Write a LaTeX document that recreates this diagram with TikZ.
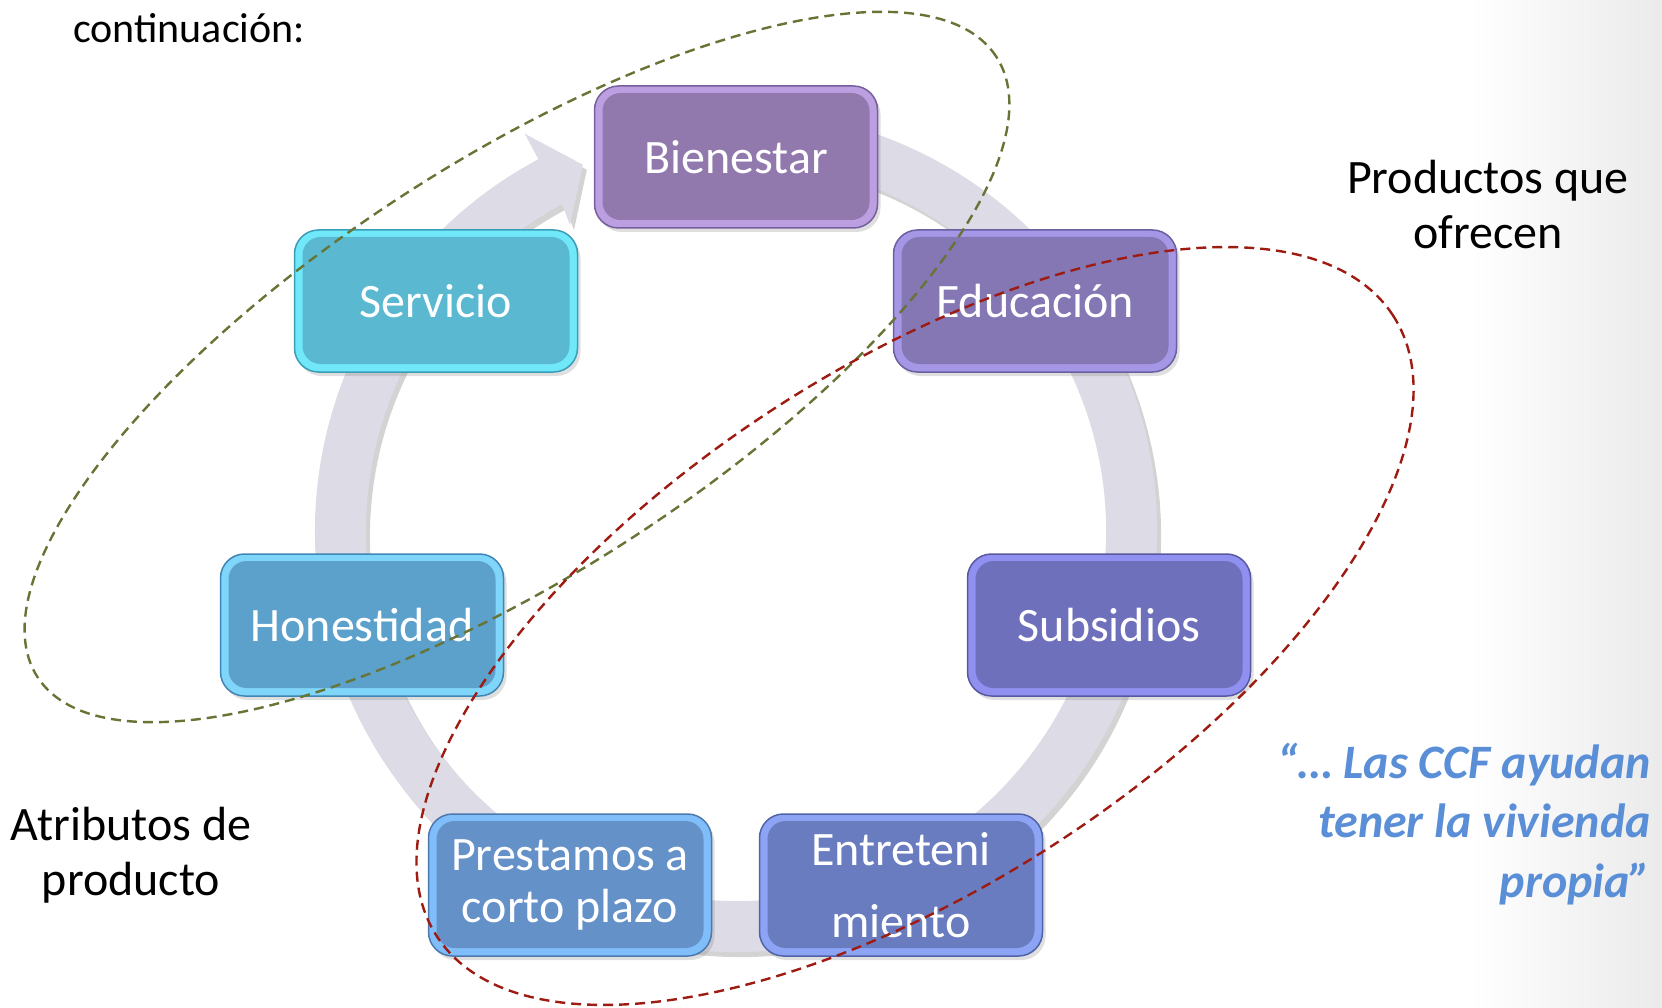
\documentclass[tikz,border=0pt]{standalone}
\usepackage{fontspec}
\setmainfont{Carlito}
\usetikzlibrary{calc,shadows}
\definecolor{ringgray}{HTML}{DDDBE5}
\definecolor{gdash}{HTML}{667436}
\definecolor{rdash}{HTML}{9E1B12}
\definecolor{quoteblue}{HTML}{5A8FD8}
\definecolor{bienF}{HTML}{9179AE}\definecolor{bienL}{HTML}{BC9FE0}\definecolor{bienD}{HTML}{765F9C}
\definecolor{eduF}{HTML}{8477B4}\definecolor{eduL}{HTML}{A596E6}\definecolor{eduD}{HTML}{6A5FA0}
\definecolor{subF}{HTML}{6F70BB}\definecolor{subL}{HTML}{9090F0}\definecolor{subD}{HTML}{5858A0}
\definecolor{entF}{HTML}{6A7CC0}\definecolor{entL}{HTML}{8DA4F5}\definecolor{entD}{HTML}{5062A8}
\definecolor{preF}{HTML}{6591C9}\definecolor{preL}{HTML}{80BEFA}\definecolor{preD}{HTML}{4C78B0}
\definecolor{honF}{HTML}{5CA1CC}\definecolor{honL}{HTML}{7FD5FA}\definecolor{honD}{HTML}{3F86B4}
\definecolor{serF}{HTML}{5AB9D1}\definecolor{serL}{HTML}{70E8FA}\definecolor{serD}{HTML}{3A9DB8}
\newcommand\cyclebox[6]{%
  \node[cbox, fill=#4, draw=#5,
    path picture={\fill[#3, rounded corners=18pt]
      ([shift={(8pt,-7pt)}]path picture bounding box.north west) rectangle
      ([shift={(-8pt,8pt)}]path picture bounding box.south east);}]
    (#1) at (#2) {#6};}
\begin{document}
\begin{tikzpicture}[x=1pt,y=1pt,
  cbox/.style={rounded corners=24pt, minimum width=283pt, minimum height=142pt,
    line width=1.5pt, text=white, align=center, inner sep=0pt,
    font=\fontsize{48}{52}\selectfont,
    drop shadow={opacity=0.25, shadow xshift=3pt, shadow yshift=-4pt}},
  dashring/.style={dashed, dash pattern=on 10pt off 6pt, line width=2.4pt},
  plain/.style={text=black, align=center, inner sep=0pt, font=\fontsize{48}{55}\selectfont}
]
\useasboundingbox (0,0) rectangle (1662,-1008);
\shade[left color=white, right color=black!8] (1470,0) rectangle (1662,-1008);

\coordinate (C) at (736,-531);
% ring with arrow
\fill[ringgray, drop shadow={opacity=0.35, shadow xshift=4pt, shadow yshift=-5pt}]
  ($(C)+(75:421pt)$) arc[start angle=75, end angle=-242, radius=421pt]
  -- ($(C)+(-242:450pt)$) -- ($(C)+(-247.3:397pt)$) -- ($(C)+(-241.5:348pt)$)
  -- ($(C)+(-242:370pt)$) arc[start angle=-242, end angle=75, radius=370pt] -- cycle;

\cyclebox{bien}{736,-157}{bienF}{bienL}{bienD}{Bienestar}
\cyclebox{edu}{1035,-301}{eduF}{eduL}{eduD}{Educación}
\cyclebox{sub}{1109,-625}{subF}{subL}{subD}{Subsidios}
\cyclebox{ent}{901,-885}{entF}{entL}{entD}{Entreteni\\[20pt]miento}
\cyclebox{pre}{570,-885}{preF}{preL}{preD}{Prestamos a\\corto plazo}
\cyclebox{hon}{362,-625}{honF}{honL}{honD}{Honestidad}
\cyclebox{ser}{436,-301}{serF}{serL}{serD}{Servicio}

\node[anchor=base west, inner sep=0pt, font=\fontsize{42}{48}\selectfont] (cont) at (73,-43) {continuación:};
\node[plain] (prod) at (1488,-205) {Productos que\\ofrecen};
\node[plain] (atr) at (131,-855) {Atributos de\\producto};
\node[anchor=east, align=right, inner sep=0pt, text=quoteblue,
  font=\fontsize{48}{59.5}\selectfont\bfseries\itshape] (quote) at (1651,-824)
  {“… Las CCF ayudan\\tener la vivienda\\propia”};

\coordinate (G) at (517,-367);
\coordinate (R) at (915,-626);
\draw[gdash, dashring, rotate around={32.9:(G)}] (G) ellipse[x radius=571pt, y radius=206pt];
\draw[rdash, dashring, rotate around={33:(R)}] (R) ellipse[x radius=570pt, y radius=259pt];
\end{tikzpicture}
\end{document}
